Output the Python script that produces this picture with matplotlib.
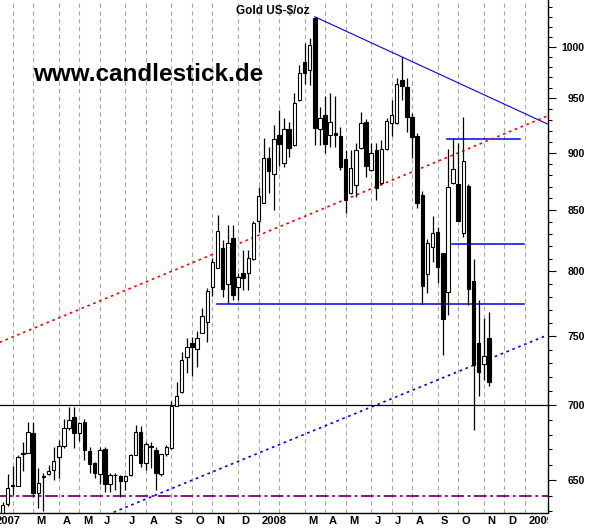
import numpy as np
import pandas as pd
import matplotlib
matplotlib.use('Agg')
import matplotlib.pyplot as plt
import matplotlib.dates as mdates
from matplotlib.patches import Rectangle
from matplotlib.transforms import blended_transform_factory, ScaledTranslation
from matplotlib.ticker import NullFormatter, FuncFormatter

# ---------------- data (weekly candles, US-$/oz) ----------------
first_week = '2007-01-19'
opens = [629.0, 634.6, 646.8, 646.2, 667.8, 667.8, 681.0, 641.8, 652.2, 653.7,
         656.4, 664.8, 672.5, 684.4, 691.7, 681.0, 688.3, 668.9, 660.8, 654.1,
         670.1, 647.6, 653.0, 652.7, 649.3, 652.9, 666.6, 681.5, 660.8, 671.5,
         669.6, 653.7, 666.8, 670.7, 699.5, 709.6, 734.3, 744.7, 740.2, 752.5,
         760.2, 787.7, 802.1, 818.3, 789.7, 826.5, 787.7, 798.2, 798.2, 809.6,
         841.2, 856.3, 895.2, 880.9, 915.6, 890.5, 921.7, 906.9, 948.4, 985.3,
         977.1, 1028.6, 921.2, 934.3, 916.0, 918.1, 915.1, 894.0, 864.3, 871.5,
         903.9, 927.8, 885.0, 902.4, 873.0, 903.1, 927.2, 927.2, 967.1, 960.9,
         932.2, 915.1, 862.9, 797.4, 819.6, 831.4, 814.2, 783.8, 873.0, 872.3,
         830.6, 870.8, 791.9, 744.5, 729.2, 748.3]
highs = [636.0, 653.7, 659.0, 666.3, 675.0, 688.7, 688.3, 657.5, 654.5, 659.7,
         671.8, 676.3, 690.3, 699.0, 698.6, 688.3, 690.3, 671.6, 661.7, 671.8,
         671.8, 654.4, 654.6, 653.0, 653.3, 667.0, 686.5, 685.8, 675.1, 675.1,
         671.8, 667.0, 672.9, 703.0, 716.7, 738.4, 748.3, 749.5, 753.8, 771.0,
         787.0, 810.2, 846.0, 825.1, 837.5, 837.5, 798.4, 816.9, 816.9, 841.2,
         870.0, 913.2, 905.4, 924.8, 939.0, 931.3, 928.2, 954.6, 981.9, 1003.4,
         1008.4, 1030.2, 942.2, 952.6, 954.6, 952.6, 923.5, 902.4, 902.4, 908.4,
         936.7, 930.6, 908.4, 908.7, 911.4, 931.3, 948.4, 969.0, 990.2, 969.7,
         936.2, 917.5, 866.4, 825.7, 845.1, 835.6, 814.5, 903.0, 912.9, 909.0,
         932.8, 872.3, 809.3, 777.3, 763.7, 768.3]
lows = [627.0, 633.3, 640.3, 646.0, 656.0, 667.6, 639.2, 631.9, 630.5, 653.0,
        650.0, 651.0, 671.0, 683.0, 670.7, 676.0, 663.0, 654.5, 651.0, 647.7,
        642.4, 642.4, 643.5, 639.2, 643.5, 652.7, 666.3, 658.4, 656.4, 657.5,
        643.5, 652.7, 665.6, 670.0, 699.5, 708.9, 722.6, 720.6, 727.0, 752.5,
        745.7, 780.4, 802.1, 779.9, 775.2, 777.3, 777.3, 785.1, 785.1, 808.8,
        831.9, 856.3, 864.3, 850.1, 887.7, 887.0, 896.4, 906.0, 947.5, 963.5,
        962.6, 906.9, 906.9, 899.4, 904.9, 905.0, 884.6, 847.3, 863.7, 861.4,
        903.3, 878.8, 883.7, 858.6, 871.5, 902.4, 915.1, 926.0, 948.4, 918.7,
        895.6, 852.1, 774.2, 783.0, 807.4, 790.3, 736.0, 765.8, 872.4, 840.9,
        827.3, 773.5, 682.8, 706.8, 717.9, 713.8]
closes = [633.9, 644.6, 646.1, 664.8, 666.9, 681.6, 641.8, 647.8, 652.8, 656.0,
          662.3, 672.5, 684.4, 690.1, 681.0, 687.6, 669.6, 660.4, 654.6, 669.6,
          647.6, 653.3, 653.5, 649.5, 652.7, 666.3, 681.6, 660.8, 673.5, 672.0,
          654.6, 666.8, 671.4, 699.5, 706.5, 732.3, 742.2, 742.2, 748.3, 765.1,
          784.3, 807.4, 832.4, 785.6, 822.4, 781.2, 795.0, 794.2, 810.2, 839.0,
          862.0, 895.2, 884.0, 912.6, 907.5, 921.7, 903.9, 945.9, 973.8, 973.8,
          1001.7, 922.1, 931.3, 908.1, 927.4, 916.0, 887.0, 858.6, 886.1, 902.4,
          926.6, 888.3, 899.4, 869.3, 903.3, 928.5, 934.3, 963.8, 961.5, 932.3,
          913.7, 856.3, 788.4, 822.9, 830.6, 803.0, 762.5, 869.5, 885.2, 841.1,
          892.5, 785.6, 728.7, 723.3, 735.2, 716.7]

# horizontal support/resistance lines: (price, start, end)
support_700 = 700
support_640 = 640
hlines_blue = [(774, '2007-11-08', '2009-01-01'),
               (821.6, '2008-09-25', '2009-01-01'),
               (912, '2008-09-18', '2008-12-26')]
# trend lines: (date, price) pairs
down_trend = [('2008-03-21', 1030.2), ('2009-02-02', 926.0)]
upper_channel = [('2007-01-15', 745.3), ('2009-02-02', 933.4)]
lower_channel = [('2007-01-15', 601.0), ('2009-02-02', 750.7)]

month_letters = ['J', 'F', 'M', 'A', 'M', 'J', 'J', 'A', 'S', 'O', 'N', 'D']
y_major = [650, 700, 750, 800, 850, 900, 950, 1000]

# ---------------- figure ----------------
W, H = 598, 528
fig = plt.figure(figsize=(W / 100, H / 100), dpi=100)
ax = fig.add_axes([0, 15 / H, 548 / W, 513 / H])
ax.set_yscale('log')

dates = pd.date_range(first_week, periods=len(opens), freq='W-FRI')
x = mdates.date2num(dates)
o = np.array(opens); c = np.array(closes)
hi = np.array(highs); lo = np.array(lows)

d0 = x[0]
ax.set_xlim(d0 - 3.42, d0 + 745.8)
ax.set_ylim(629.0, 1047.5)

# month grid (first weekly bar of each month)
axis_weeks = pd.date_range('2006-12-01', '2009-03-01', freq='W-FRI')
firsts = []
prev = None
for d in axis_weeks:
    key = (d.year, d.month)
    if key != prev:
        firsts.append(d)
        prev = key
for d in firsts:
    xv = mdates.date2num(d)
    ax.axvline(xv, color='#a9a9a9', lw=0.8, ls=(0, (4, 3)), zorder=0)

# month labels
trans = blended_transform_factory(ax.transData, ax.transAxes) + \
    ScaledTranslation(3.5 / 100, 0, fig.dpi_scale_trans)
for d in firsts:
    if d.month == 2:
        continue
    lbl = str(d.year) if d.month == 1 else month_letters[d.month - 1]
    ax.text(mdates.date2num(d), -7.5 / 513, lbl, transform=trans,
            ha='left', va='center', fontsize=8, fontweight='bold',
            family='Liberation Sans', clip_on=False)

# lines
ax.axhline(support_700, color='black', lw=0.9, zorder=1)
ax.axhline(support_640, color='#800080', lw=1.3, ls=(0, (7, 2, 1.5, 2)), zorder=1)
for p, a, b in hlines_blue:
    ax.plot([mdates.date2num(pd.Timestamp(a)), mdates.date2num(pd.Timestamp(b))],
            [p, p], color='#0000ee', lw=1.1, zorder=1)
ax.plot([mdates.date2num(pd.Timestamp(d)) for d, _ in down_trend],
        [p for _, p in down_trend], color='#0000ff', lw=0.8, zorder=1)
ax.plot([mdates.date2num(pd.Timestamp(d)) for d, _ in upper_channel],
        [p for _, p in upper_channel], color='#ff0000', lw=1.2,
        ls=(0, (1.6, 2.2)), zorder=1)
ax.plot([mdates.date2num(pd.Timestamp(d)) for d, _ in lower_channel],
        [p for _, p in lower_channel], color='#0000ff', lw=1.2,
        ls=(0, (1.6, 2.2)), zorder=1)

# candles
ax.vlines(x, lo, hi, color='black', lw=0.9, zorder=2)
body_lo = np.minimum(o, c)
body_h = np.maximum(np.abs(c - o), 0.4)
face = ['white' if cc >= oo else 'black' for oo, cc in zip(o, c)]
ax.bar(x, body_h, bottom=body_lo, width=4.8, color=face, edgecolor='black',
       linewidth=0.8, zorder=3)

# axes styling
for s in ['top', 'left']:
    ax.spines[s].set_visible(False)
ax.spines['right'].set_linewidth(1.0)
ax.spines['bottom'].set_linewidth(1.0)
ax.set_xticks([])
ax.yaxis.tick_right()
ax.set_yticks(y_major)
ax.set_yticks([v for v in range(630, 1050, 10) if v not in y_major], minor=True)
ax.yaxis.set_major_formatter(FuncFormatter(lambda v, p: f'{int(round(v))}'))
ax.yaxis.set_minor_formatter(NullFormatter())
ax.tick_params(axis='y', which='major', length=5.5, width=0.8, pad=21,
               labelsize=7.5)
ax.tick_params(axis='y', which='minor', length=3, width=0.8)
for lbl in ax.get_yticklabels():
    lbl.set_horizontalalignment('right')
    lbl.set_fontweight('bold')
    lbl.set_family('Liberation Sans')

# the date strip ends at the price-axis line (last label is cut there)
fig.add_artist(Rectangle((547.5 / W, 0), 1 - 547.5 / W, 14 / H,
                         transform=fig.transFigure, facecolor='white',
                         edgecolor='none', zorder=10))

fig.text(33 / W, 1 - 81 / H, 'www.candlestick.de', fontsize=17.5,
         fontweight='bold', family='Liberation Sans', va='baseline', ha='left')
fig.text(236 / W, 1 - 14 / H, 'Gold US-$/oz', fontsize=8.5,
         fontweight='bold', family='Liberation Sans', va='baseline', ha='left')

fig.savefig('out.png', dpi=100)
